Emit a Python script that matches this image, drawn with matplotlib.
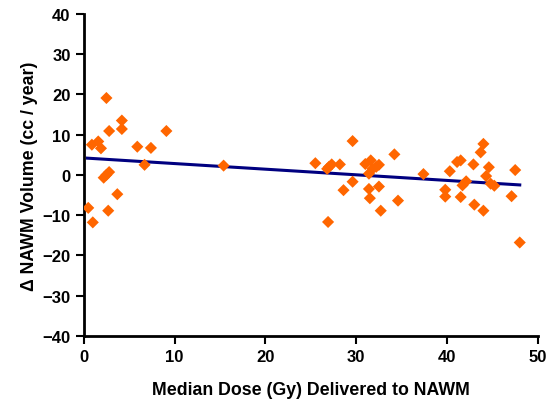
import numpy as np
import matplotlib
matplotlib.use("Agg")
import matplotlib.pyplot as plt

plt.rcParams['font.family'] = ['Liberation Sans', 'DejaVu Sans']

# median dose (Gy) and change in NAWM volume (cc/year)
dose = [2.5, 4.2, 4.2, 2.8, 9.1, 0.9, 1.6, 1.9, 5.9, 7.4, 6.7, 15.4, 2.8, 2.2, 2.5,
        3.7, 0.5, 2.7, 1.0,
        25.5, 26.8, 27.3, 27.0, 28.2, 29.6, 29.6, 28.6, 26.9,
        31.0, 31.6, 32.5, 31.8, 31.4, 32.2, 31.4, 31.5, 32.5, 32.7,
        34.2, 34.6, 37.4, 40.3, 39.8, 39.8, 41.1, 41.5, 42.1, 41.7, 41.5,
        42.9, 43.0, 44.0, 43.7, 44.6, 44.3, 44.0, 44.8, 45.2, 47.5, 47.1, 48.0]
dvol = [19.1, 13.5, 11.4, 10.9, 10.9, 7.5, 8.3, 6.6, 7.0, 6.7, 2.5, 2.3, 0.7, -0.7, 0.0,
        -4.8, -8.2, -8.9, -11.8,
        2.9, 1.5, 2.6, 2.0, 2.6, 8.4, -1.7, -3.8, -11.7,
        2.7, 3.6, 2.5, 1.5, 0.3, 2.0, -3.5, -5.8, -2.9, -8.9,
        5.1, -6.4, 0.2, 0.9, -3.7, -5.4, 3.2, 3.6, -1.6, -2.6, -5.5,
        2.6, -7.4, 7.7, 5.6, 1.9, -0.3, -8.9, -2.2, -2.7, 1.2, -5.3, -16.8]

slope, icpt = np.polyfit(dose, dvol, 1)
xfit = np.array([0.4, max(dose)])

fig = plt.figure(figsize=(5.58, 4.02), dpi=100)
ax = fig.add_axes([0.15, 0.162, 0.814, 0.801])

ax.scatter(dose, dvol, marker='D', s=38, color='#FF6600', edgecolors='none', zorder=3)
ax.plot(xfit, icpt + slope * xfit, color='#000080', lw=2.2, zorder=2)

ax.set_xlim(0, 50)
ax.set_ylim(-40, 40)
ax.set_xticks(range(0, 51, 10))
ax.set_yticks(range(-40, 41, 10))
for s in ['top', 'right']:
    ax.spines[s].set_visible(False)
for s in ['left', 'bottom']:
    ax.spines[s].set_linewidth(2)
ax.tick_params(width=1.5, length=5.5, labelsize=12, direction='out', pad=4)
for lab in ax.get_xticklabels() + ax.get_yticklabels():
    lab.set_fontweight('bold')

ax.set_xlabel('Median Dose (Gy) Delivered to NAWM', fontsize=12.8, fontweight='bold', labelpad=12)
ax.set_ylabel('Δ NAWM Volume (cc / year)', fontsize=12.8, fontweight='bold', labelpad=3)

fig.savefig('out.png', dpi=100)
